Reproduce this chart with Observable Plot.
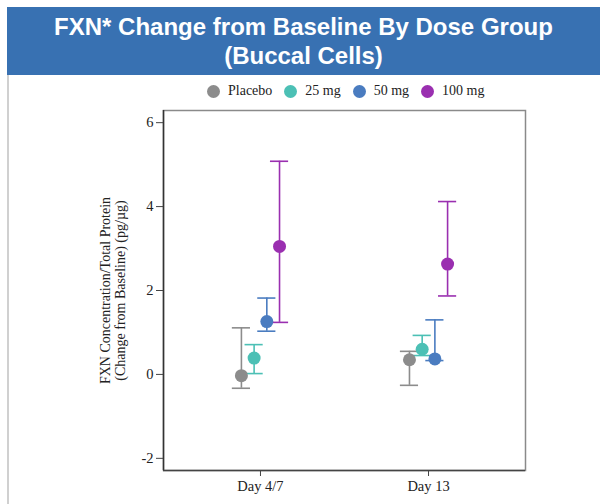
<!DOCTYPE html>
<html>
<head>
<meta charset="utf-8">
<script src="https://cdn.jsdelivr.net/npm/d3@7"></script>
<script src="https://cdn.jsdelivr.net/npm/@observablehq/plot@0.6"></script>
<style>
  html, body { margin: 0; padding: 0; background: #fff; width: 600px; height: 504px; overflow: hidden; position: relative; }
  #banner { position: absolute; left: 7px; top: 7px; width: 593px; height: 68px; background: #3871b2;
    color: #fff; font-family: "Liberation Sans", Arial, sans-serif; font-weight: bold; font-size: 24px;
    line-height: 29px; text-align: center; display: flex; flex-direction: column; justify-content: center; }
  #edge { position: absolute; left: 7px; top: 75px; width: 2px; height: 429px; background: #d0d0d0; }
  #legend { position: absolute; left: 207px; top: 83px; height: 16px; display: flex;
    align-items: center; font-family: "Liberation Serif", "Times New Roman", serif; font-size: 14px; color: #222; }
  #legend span.item { display: inline-flex; align-items: center; margin-right: 12px; }
  #legend span.sw { width: 13px; height: 13px; border-radius: 50%; display: inline-block; margin-right: 8px; }
  #chart { position: absolute; left: 0; top: 100px; }
</style>
</head>
<body>
<div id="banner"><div>FXN* Change from Baseline By Dose Group</div><div>(Buccal Cells)</div></div>
<div id="edge"></div>
<div id="legend"></div>
<div id="chart"></div>
<script>
const days = ["Day 4/7", "Day 13"];
const groups = ["Placebo", "25 mg", "50 mg", "100 mg"];
const colors = ["#8c8c8c", "#4cc0b5", "#4a7cc0", "#9a2fb0"];
// per group: [Day 4/7, Day 13]
const meanValues = {
  "Placebo": [-0.03, 0.35],
  "25 mg":   [0.39, 0.60],
  "50 mg":   [1.26, 0.37],
  "100 mg":  [3.05, 2.63]
};
const upperValues = {
  "Placebo": [1.11, 0.55],
  "25 mg":   [0.71, 0.93],
  "50 mg":   [1.82, 1.30],
  "100 mg":  [5.08, 4.12]
};
const lowerValues = {
  "Placebo": [-0.33, -0.26],
  "25 mg":   [0.02, 0.45],
  "50 mg":   [1.03, 0.33],
  "100 mg":  [1.24, 1.87]
};
const yTicks = [-2, 0, 2, 4, 6];

const dodge = 0.0756;   // horizontal offset between groups (x units)
const capHalf = 0.054;  // cap half-width (x units)

const rows = [];
groups.forEach((g, gi) => {
  days.forEach((d, di) => {
    const xp = di + (gi - 1.5) * dodge;
    rows.push({group: g, day: d, x: xp, mean: meanValues[g][di], lo: lowerValues[g][di], hi: upperValues[g][di]});
  });
});

// legend
const leg = document.getElementById("legend");
groups.forEach((g, i) => {
  const it = document.createElement("span");
  it.className = "item";
  it.innerHTML = `<span class="sw" style="background:${colors[i]}"></span>${g}`;
  leg.appendChild(it);
});

const serif = "'Liberation Serif', 'Times New Roman', serif";
const color = {domain: groups, range: colors};
const chart = Plot.plot({
  width: 600,
  height: 404,
  marginLeft: 163,
  marginRight: 75,
  marginTop: 10,
  marginBottom: 34,
  style: "font-family: 'Liberation Serif', 'Times New Roman', serif; font-size: 14px; color: #222; background: transparent;",
  x: {domain: [-0.577, 1.577]},
  y: {domain: [-2.29, 6.29]},
  color: color,
  marks: [
    Plot.frame({stroke: "#8a8a8a", strokeWidth: 1.5}),
    Plot.ruleX([-0.577], {stroke: "#333", strokeWidth: 1.5}),
    Plot.ruleY([-2.29], {stroke: "#444", strokeWidth: 1.5}),
    Plot.axisX([0, 1], {tickFormat: i => days[i], tickSize: 6, tickPadding: 4, label: null,
      fontSize: 14.5, fontFamily: serif, stroke: "#444", fill: "#222"}),
    Plot.axisY(yTicks, {tickFormat: d => String(d), tickSize: 7, tickPadding: 3, label: null,
      fontSize: 14.5, fontFamily: serif, stroke: "#444", fill: "#222"}),
    Plot.ruleX(rows, {x: "x", y1: "lo", y2: "hi", stroke: "group", strokeWidth: 1.6}),
    Plot.ruleY(rows, {y: "hi", x1: d => d.x - capHalf, x2: d => d.x + capHalf, stroke: "group", strokeWidth: 1.6}),
    Plot.ruleY(rows, {y: "lo", x1: d => d.x - capHalf, x2: d => d.x + capHalf, stroke: "group", strokeWidth: 1.6}),
    Plot.dot(rows, {x: "x", y: "mean", fill: "group", r: 6.5}),
    Plot.text(["FXN Concentration/Total Protein\n(Change from Baseline) (pg/µg)"], {
      frameAnchor: "left", dx: -51, rotate: -90, text: d => d, textAnchor: "middle", lineAnchor: "middle",
      fontSize: 14, fontFamily: serif, lineHeight: 1.1, fill: "#222"
    })
  ]
});
document.getElementById("chart").appendChild(chart);
</script>
</body>
</html>
